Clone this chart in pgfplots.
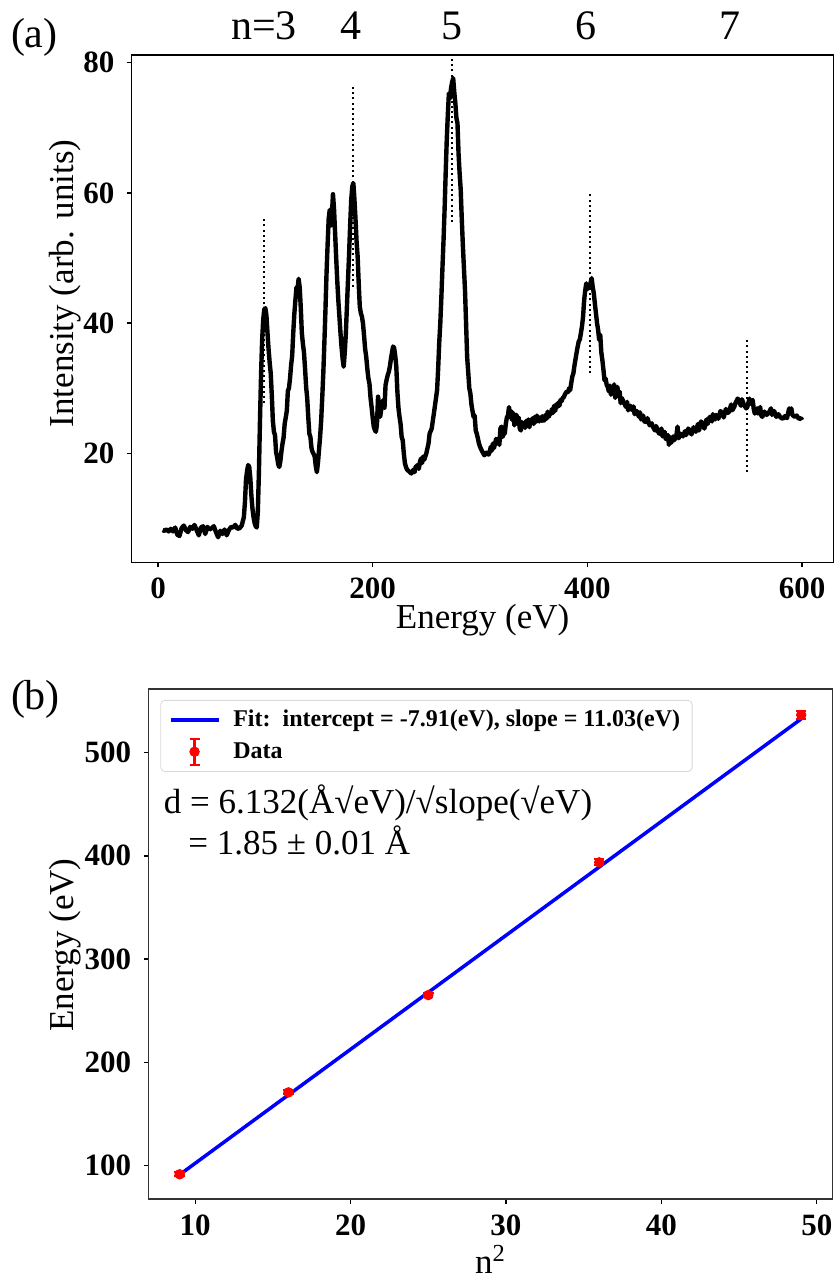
\documentclass[border=0pt]{standalone}
\usepackage{fontspec}
\setmainfont{Liberation Serif}
\usepackage{pgfplots}
\pgfplotsset{compat=1.18}
\pgfplotstableread{
E I
4.3 8.2
6 8.1
8 8.3
10 8.0
12 8.4
14 8.0
16 8.6
18 7.5
20 7.3
22 8.5
24 8.9
26 8.2
28 7.9
30 8.7
32 8.4
34 9.0
36 8.2
38 7.4
40 8.6
42 8.8
44 7.6
46 8.7
48 8.3
50 8.5
52 8.8
54 7.9
56 7.1
58 8.1
60 7.6
62 8.3
64 7.4
66 8.2
68 8.7
70 8.6
72 9.0
74 8.4
76 8.5
78 8.9
80 10.2
81 12.5
82 16.0
83 17.3
84 18.2
85 17.9
86 16.2
87 13.5
88 11.5
89 10.2
90 9.3
91 8.8
92 8.6
93 11
94 17
95 25
96 32
97 37.4
98 40.5
99 42.1
100 42.3
101 41.2
102 38.5
103 36
104 34
105 32.3
106 29
107 25
108 23.3
109 22.8
110 20.2
111 19.4
112 18.3
113 17.9
114 18.8
115 20.3
116 21.5
117 22.4
118 24.5
120 26.5
121 29.6
122 30
123 31.5
124 33.5
125 35
126 38.5
127 41.4
128 43.5
129 45.5
130 45.2
131 46.8
132 45.5
133 42.4
134 38.5
135 36.8
136 35.5
137 33
138 30.2
139 28.5
140 25.5
141 23
142 22.5
143 20.8
144 20.2
145 19.9
146 19.5
147 18
148 17.1
149 18.5
150 20.5
151 22.5
152 25
153 28.5
154 32.3
155 37
156 42
157 47.6
158 52
159 56
160 57.4
161 55
162 56.5
163 59.8
164 57.5
165 53.8
166 50
167 46.5
168 43.5
169 41
170 38.5
171 36.3
172 34.5
173 33.3
174 35.5
175 38.4
176 42.5
177 46.6
178 50.5
179 55
180 58.9
181 61
182 61.5
183 59
184 56
185 52.5
186 50.2
187 46
188 42.5
189 41.5
190 41
191 39.9
192 38
193 36
194 34.8
195 33
196 31.5
197 30.7
198 28.5
199 27.1
200 25.5
201 24.1
202 23.6
203 23.3
204 24.5
205 28.7
206 27.5
207 25.6
208 26.8
209 27.5
210 28.2
211 27.0
212 30.5
213 31.3
214 32
215 32.5
216 33.3
217 34.5
218 35.5
219 36.4
220 36.2
221 35
222 33.3
223 29.5
224 27
225 25.6
226 24.5
227 22.5
228 22
229 20
230 18.5
231 17.9
232 17.5
234 17.2
236 16.9
238 17.5
239 17.1
240 17.9
242 18.2
243 17.6
244 18.7
245 19.2
246 18.5
247 19.5
248 19.0
250 20
252 21.5
253 23
255 23.8
257 26.1
259 28.5
260 29.7
261 33
262 37
263 40
264 44
265 48.5
266 52.7
267 57.5
268 63
269 68.1
270 72
271 75.3
272 74.5
273 76.1
274 77.0
275 77.6
276 75.5
277 73.8
278 71.5
279 70.7
280 66
281 63
282 60.5
283 56
284 52
285 48.5
286 45.1
287 40
288 34.8
289 32.5
290 30
291 29.2
292 27.5
293 26.5
294 25.6
295 25.8
296 23.5
297 23
298 22.3
299 21.5
300 21
302 20.3
304 19.7
306 20.1
308 19.8
309 20.2
310 21.0
311 20.4
312 21.5
313 20.8
315 22.2
317 22
318 21.3
319 23.8
320 24.1
321 22.5
322 23.2
323 23
324 24.5
325 25.5
326 25.8
327 27.1
328 25.5
329 26.5
330 25.1
331 26.2
332 24.3
333 25.2
334 25.9
335 24.5
336 25.5
337 23.8
338 23.5
339 24.8
340 24.2
341 24.6
342 23.9
343 25
344 24.3
345 25.2
346 24
347 25.1
348 24.6
349 25.4
350 24.5
351 25.6
352 24.8
353 25.8
354 25.1
355 24.9
356 25.5
357 25.0
358 25.7
359 25.0
360 25.1
361 25.9
362 25.3
363 26.4
364 25.6
365 26
366 26.1
367 26.8
368 26.2
369 27.3
370 26.5
371 27.5
372 27.1
373 27.8
374 27.3
375 28.2
376 28.0
377 28.5
378 28.6
379 29
380 29.3
381 29.5
382 29.4
383 30
384 29.7
385 30.8
386 31.8
387 32.3
388 33.5
389 34.5
390 35.5
391 36.4
392 37.2
393 37.5
394 38.5
395 39.5
396 41
397 43.5
398 45
399 46.1
400 45.2
401 45.6
402 45.8
403 46.2
404 46.9
405 45.5
406 44.6
407 43
408 41.5
409 40
410 39
411 37.4
412 38.2
413 35.5
414 34.3
415 32.8
416 31.2
417 31.5
418 30.5
419 30.2
420 29.5
421 30.4
422 29.0
423 29.8
424 29.2
425 30.6
426 28.5
427 29.6
428 30.2
429 28.8
430 29.5
431 27.7
432 28.5
434 27.8
436 27.1
437 27.9
438 26.6
440 27.3
442 26.6
443 27.2
444 26.0
446 26.5
448 25.6
449 26.3
450 25.2
452 25.8
453 24.9
455 24.8
456 25.4
458 24.3
460 24.6
461 24.1
463 23.5
464 24.2
466 23.3
467 23
469 23.8
470 22.6
472 23.3
473 22.2
475 22.8
476 21.3
477 22.5
478 21.6
480 22.6
481 22
483 22.8
484 24.1
485 22.3
487 23
489 22.6
491 23.4
492 22.8
494 23.8
495 23.6
497 22.9
499 24
501 23.3
503 24.5
504 23.5
506 24.9
507 24.6
509 23.8
511 25.2
512 24.5
514 25.6
516 24.9
517 26
519 25.2
520 25.9
522 25.3
524 26.5
526 26.1
527 25.5
529 26.8
531 26.2
532 26.4
534 27.5
535 26.6
537 27.2
538 27.7
540 28.4
541 28.2
543 27.3
544 28.3
546 27.4
548 26.9
549 27.1
551 28.4
552 27.6
554 28.2
555 26.8
556 26.1
558 26.9
559 26.1
561 27.1
562 25.8
563 25.6
565 26.4
567 25.9
569 26.2
571 26.9
572 25.9
574 26.5
576 25.6
578 26
580 25.5
582 25.3
584 25.7
586 25.4
588 26.9
589 26.2
590 26.9
591 25.9
593 25.6
595 25.8
597 25.3
599 25.4
600 25.1
}\spectrum
\pgfplotstableread{
x y e
9 91.7 2
16 171.0 2
25 265.2 2
36 393.7 3
49 536.3 4
}\energydata

\pgfplotsset{
  myaxis/.style={
    scale only axis,
    anchor=south west,
    tick align=outside,
    xtick pos=bottom,
    ytick pos=left,
    major tick length=2.5pt,
    axis line style={line width=0.7pt},
    tick style={black,line width=0.7pt},
    /pgf/number format/assume math mode=true,
    ticklabel style={font=\fontsize{15.5}{18}\selectfont\bfseries},
    xticklabel style={inner sep=0pt,yshift=-5pt},
    yticklabel style={inner sep=0pt,xshift=-6pt},
  }
}

\begin{document}
\begin{tikzpicture}
\useasboundingbox (0,0) rectangle (417.5pt,639.5pt);
% ---------- panel (a)
\begin{axis}[myaxis,
  at={(65.85pt,358.35pt)},
  width=351pt, height=253.65pt,
  xmin=-24.5, xmax=629.5, ymin=3.26, ymax=81.18,
  xtick={0,200,400,600}, ytick={20,40,60,80},
]
\addplot[black, line width=2.2pt, line join=round] table[x=E,y=I] {\spectrum};
\addplot[black, line width=0.9pt, dash pattern=on 1pt off 1.6pt] coordinates {(98.9,27.7) (98.9,56.3)};
\addplot[black, line width=0.9pt, dash pattern=on 1pt off 1.6pt] coordinates {(181.8,45.6) (181.8,76.6)};
\addplot[black, line width=0.9pt, dash pattern=on 1pt off 1.6pt] coordinates {(273.9,55.5) (273.9,80.7)};
\addplot[black, line width=0.9pt, dash pattern=on 1pt off 1.6pt] coordinates {(402.4,32.3) (402.4,60.1)};
\addplot[black, line width=0.9pt, dash pattern=on 1pt off 1.6pt] coordinates {(548.5,17.1) (548.5,37.4)};
\end{axis}
% ---------- panel (b)
\begin{axis}[myaxis,
  at={(74.3pt,40pt)},
  width=341.85pt, height=255pt,
  xmin=7, xmax=51, ymin=67.8, ymax=561.5,
  xtick={10,20,30,40,50}, ytick={100,200,300,400,500},
  axis line style={line width=0.7pt, black!80},
  legend cell align=left,
  legend style={at={(axis description cs:0,1)}, anchor=north west,
    xshift=5.9pt, yshift=-5.5pt, draw=black!15, rounded corners=2pt,
    fill=white, font=\fontsize{12}{13.5}\selectfont\bfseries,
    inner xsep=4pt, inner ysep=2.8pt, row sep=2pt,
    /tikz/every odd column/.append style={column sep=4.5pt}},
]
\addplot[blue, line width=1.75pt,
  legend image code/.code={\draw[blue,line width=1.75pt] (0pt,0pt) -- (24pt,0pt);}]
  coordinates {(9,91.36) (49,532.56)};
\addlegendentry{Fit:\ \ intercept = -7.91(eV), slope = 11.03(eV)}
\addplot[red, only marks, mark=*, mark size=2.4pt, mark options={fill=red, draw=red},
  error bars/.cd, y dir=both, y explicit,
  error bar style={red, line width=1pt},
  error mark options={red, rotate=90, mark size=2.6pt, line width=1pt},
  /pgfplots/legend image code/.code={
    \draw[red,line width=1.1pt] (12pt,-6.5pt) -- (12pt,6.5pt);
    \draw[red,line width=1.1pt] (9.5pt,-6.5pt) -- (14.5pt,-6.5pt);
    \draw[red,line width=1.1pt] (9.5pt,6.5pt) -- (14.5pt,6.5pt);
    \fill[red] (12pt,0pt) circle (2.4pt);}]
  table[x=x, y=y, y error=e] {\energydata};
\addlegendentry{Data}
\end{axis}
% ---------- text
\node[anchor=base west, inner sep=0pt, font=\fontsize{21}{25}\selectfont] at (5.3pt,615.7pt) {(a)};
\node[anchor=base west, inner sep=0pt, font=\fontsize{21}{25}\selectfont] at (5.3pt,284.7pt) {(b)};
\foreach \xx/\tt in {132/n=3, 175.5/4, 225.75/5, 292.85/6, 364.75/7}
  \node[anchor=base, inner sep=0pt, font=\fontsize{21}{25}\selectfont] at (\xx pt,619.5pt) {\tt};
\node[anchor=base, inner sep=0pt, font=\fontsize{17.5}{21}\selectfont] at (241.3pt,325pt) {Energy (eV)};
\node[rotate=90, inner sep=0pt, font=\fontsize{17.5}{21}\selectfont] at (32.5pt,497.75pt) {Intensity (arb. units)};
\node[rotate=90, inner sep=0pt, font=\fontsize{17.5}{21}\selectfont] at (32.5pt,167pt) {Energy (eV)};
\node[anchor=base, inner sep=0pt, font=\fontsize{17.5}{21}\selectfont] at (245.25pt,2.5pt) {n\textsuperscript{2}};
\node[anchor=base west, inner sep=0pt, font=\fontsize{17.5}{21}\selectfont] at (81.75pt,232.85pt) {d = 6.132(Å√eV)/√slope(√eV)};
\node[anchor=base west, inner sep=0pt, font=\fontsize{17.5}{21}\selectfont] at (94pt,212pt) {= 1.85 ± 0.01 Å};
\end{tikzpicture}
\end{document}
